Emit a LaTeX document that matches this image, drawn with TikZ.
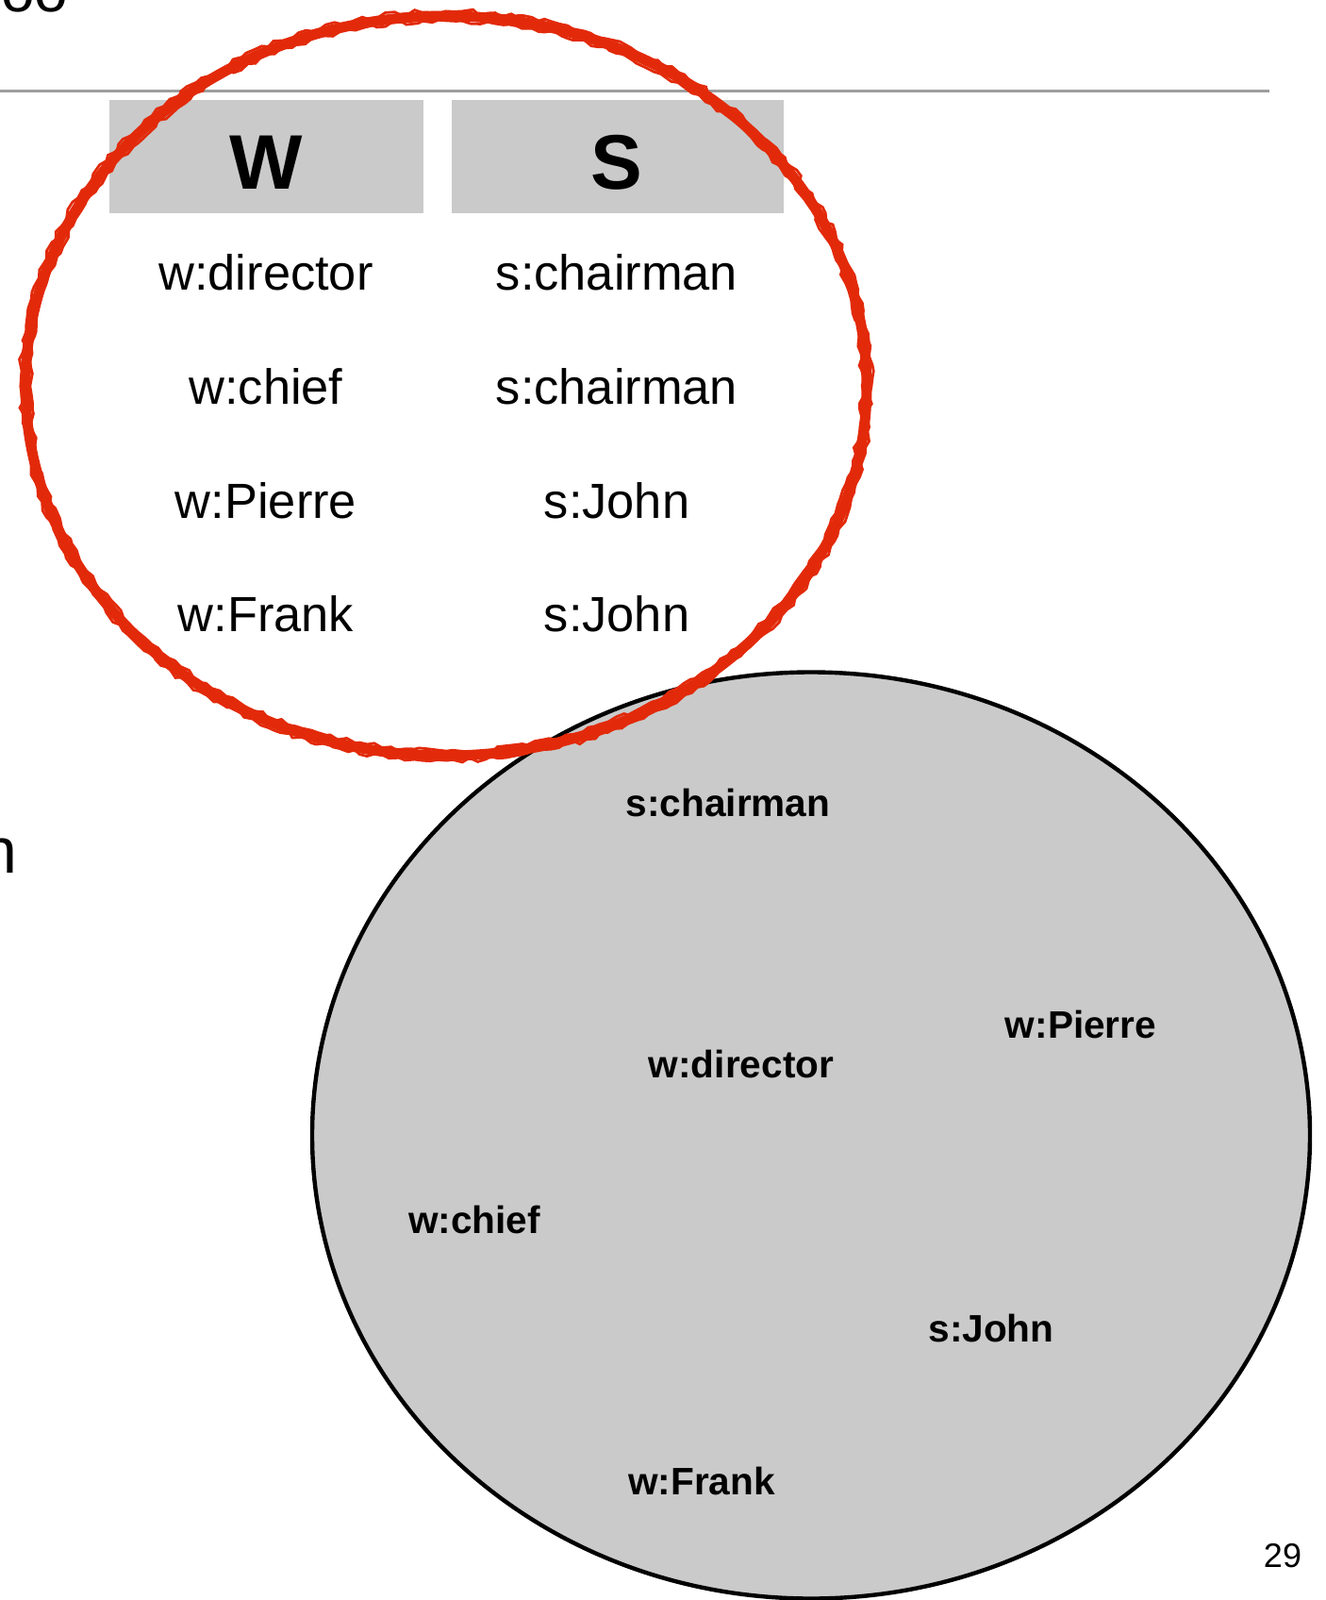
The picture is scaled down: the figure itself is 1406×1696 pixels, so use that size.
\documentclass[tikz,border=0pt]{standalone}
\usepackage{fontspec}
\setmainfont{Liberation Sans}
\usepackage{tikz}
\usetikzlibrary{positioning,decorations.pathmorphing}
\usepackage{xcolor}
\definecolor{hdrgray}{HTML}{CACACA}
\definecolor{rulegray}{HTML}{9E9E9E}
\definecolor{crayon}{HTML}{E22A0A}

\begin{document}
\begin{tikzpicture}[
  x=0.5pt, y=-0.5pt,
  every node/.style={inner sep=0pt},
  hdr/.style={fill=hdrgray, minimum height=60pt, font=\fontsize{41}{41}\selectfont\bfseries},
  cell/.style={font=\fontsize{26.2}{26.2}\selectfont},
  tag/.style={font=\fontsize{20.3}{20.3}\selectfont\bfseries},
  pool/.style={fill=hdrgray, draw=black, line width=2.2pt},
  ring/.style={draw=crayon, line width=5.5pt},
  scrib/.style={draw=crayon, line width=1.4pt, decorate,
                decoration={random steps, segment length=4pt, amplitude=1.3pt}}
]
\useasboundingbox (0,0) rectangle (1406,1696);
\clip (0,0) rectangle (1406,1696);

%% cut-off slide text
\node[anchor=base east, font=\fontsize{32}{32}\selectfont] (ttl) at (73,13) {oo};
\node[anchor=base east, font=\fontsize{34}{34}\selectfont] (bdy) at (19,925) {n};

%% title rule
\coordinate (rl) at (0,97);
\coordinate (rr) at (1346,97);
\draw[rulegray, line width=1.5pt] (rl) -- (rr);

%% table W / S
\node[hdr, minimum width=166.5pt] (hw) at (282.5,166) {};
\node[hdr, minimum width=176pt] (hs) at (655,166) {};
\node[font=\fontsize{41}{41}\selectfont\bfseries] (lw) at (282,172) {W};
\node[font=\fontsize{41}{41}\selectfont\bfseries] (ls) at (654,172) {S};

\node[cell] (w1) at (282,289) {w:director};
\node[cell] (w2) at (282,410) {w:chief};
\node[cell] (w3) at (282,531) {w:Pierre};
\node[cell] (w4) at (282,651) {w:Frank};
\node[cell] (s1) at (654,289) {s:chairman};
\node[cell] (s2) at (654,410) {s:chairman};
\node[cell] (s3) at (654,531) {s:John};
\node[cell] (s4) at (654,651) {s:John};

%% the pool
\draw[pool] (860,1203.5) ellipse [x radius=264.5pt, y radius=245.5pt];
\node[tag] (p1) at (772,851) {s:chairman};
\node[tag] (p2) at (786,1128) {w:director};
\node[tag] (p3) at (1146,1086) {w:Pierre};
\node[tag] (p4) at (503,1293) {w:chief};
\node[tag] (p5) at (1051,1408) {s:John};
\node[tag] (p6) at (744,1570) {w:Frank};

%% red crayon ring
\draw[ring] (473,409) ellipse [x radius=223pt, y radius=196pt];
\draw[scrib] (473,409) ellipse [x radius=225.5pt, y radius=198.5pt];
\draw[scrib] (473,409) ellipse [x radius=220.5pt, y radius=193.5pt];

%% page number
\node[font=\fontsize{18}{18}\selectfont] (pg) at (1360,1649) {29};

\end{tikzpicture}
\end{document}
